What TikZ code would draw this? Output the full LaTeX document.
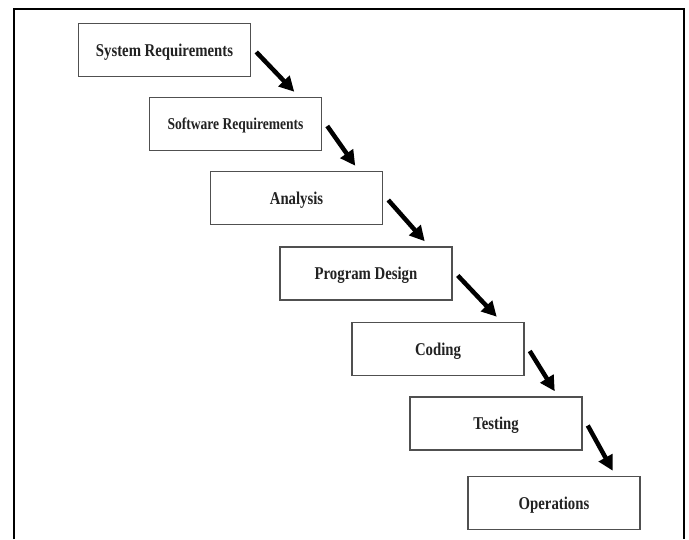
\documentclass[tikz,border=0pt]{standalone}
\usepackage{fontspec}
\setmainfont[FakeStretch=0.82]{Liberation Serif}
\usetikzlibrary{arrows.meta,positioning}
\definecolor{ink}{HTML}{222222}
\definecolor{boxline}{HTML}{505050}
\tikzset{
  stage/.style={draw=boxline,fill=white,line width=1.5pt,
                minimum width=172pt,minimum height=53pt,inner sep=0pt,
                text depth=0pt,align=center,
                font=\bfseries\fontsize{18}{21}\selectfont,text=ink},
  smallstage/.style={stage,font=\bfseries\fontsize{16.5}{19}\selectfont},
  flowarr/.style={-{Triangle[length=15pt,width=15pt]},line width=4.5pt,
                  draw=black},
  frameline/.style={line width=2.5pt,draw=black}
}

\begin{document}
\begin{tikzpicture}[x=1pt,y=-1pt]
  \path[use as bounding box] (0,0) rectangle (689,539);
  \draw[frameline] (14,539) -- (14,9) -- (684,9) -- (684,539);
  \node[stage] (sysreq) at (164.5,50) {System Requirements};
  \node[smallstage] (swreq) at (235.5,124) {Software Requirements};
  \node[stage] (analysis) at (296.5,198) {Analysis};
  \node[stage] (progdesign) at (366,273.5) {Program Design};
  \node[stage] (coding) at (438,349) {Coding};
  \node[stage] (testing) at (496,423.5) {Testing};
  \node[stage] (operations) at (554,503) {Operations};
  \foreach \a/\b in {sysreq/swreq,swreq/analysis,analysis/progdesign,
                     progdesign/coding,coding/testing,testing/operations}{
    \draw[flowarr] ([xshift=5pt,yshift=-2pt]\a.east) --
                   ([xshift=-28pt,yshift=5pt]\b.north east);
  }
\end{tikzpicture}
\end{document}
